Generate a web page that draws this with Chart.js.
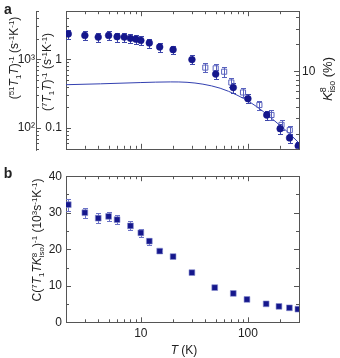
<!DOCTYPE html>
<html>
<head>
<meta charset="utf-8">
<script src="https://cdn.jsdelivr.net/npm/chart.js@4.4.1/dist/chart.umd.min.js"></script>
<style>
    html, body { margin: 0; padding: 0; background: #fff; }
    #wrap { position: relative; width: 340px; height: 358px; overflow: hidden; }
    canvas { position: absolute; left: 0; }
    #chartA { top: 0; }
    #chartB { top: 165px; }
</style>
</head>
<body>
<div id="wrap">
    <canvas id="chartA" width="340" height="160"></canvas>
    <canvas id="chartB" width="340" height="193"></canvas>
</div>
<script>
'use strict'

// panel a : (7T1T)^-1, filled circles, left axis
const tempA = [2.1, 3, 4, 5, 6, 7, 8, 9, 10, 12, 15, 20, 30, 50, 73, 100, 150, 200, 245, 295]
const rateA = [2.34, 2.22, 2.10, 2.22, 2.13, 2.10, 2.02, 1.96, 1.88, 1.73, 1.51, 1.38, 0.99, 0.61, 0.388, 0.268, 0.155, 0.098, 0.072, 0.055]
const errA = [0.35, 0.33, 0.31, 0.33, 0.32, 0.31, 0.30, 0.29, 0.28, 0.26, 0.23, 0.20, 0.15, 0.09, 0.06, 0.04, 0.023, 0.015, 0.011, 0.008]

// panel a : K8_iso (%), open squares, right axis
const tempK = [40, 50, 60, 70, 90, 128, 166, 206, 246]
const knight = [11.0, 10.8, 9.9, 7.5, 5.8, 4.2, 3.25, 2.52, 2.2]
const errK = [1.3, 1.3, 1.2, 0.9, 0.7, 0.5, 0.4, 0.3, 0.27]

// panel a : solid curve
const fitT = [2, 4.2, 10, 19, 27, 38, 55, 79, 105, 140, 187, 231, 296]
const fitV = [0.427, 0.44, 0.459, 0.469, 0.463, 0.435, 0.38, 0.302, 0.237, 0.173, 0.119, 0.09, 0.062]

// panel b : C(7T1TK)^-1
const tempB = [2.1, 3, 4, 5, 6, 8, 10, 12, 15, 20, 30, 49, 73, 98, 148, 195, 244, 293]
const ratioB = [32.2, 30.0, 28.5, 29.0, 28.1, 26.4, 24.5, 22.2, 19.5, 18.0, 13.6, 9.5, 7.9, 6.25, 5.05, 4.35, 3.97, 3.6]
const errB = [1.6, 1.4, 1.3, 1.3, 1.3, 1.2, 1.1, 1.0, 0.5, 0.4, 0, 0, 0, 0, 0, 0, 0, 0]

// tick positions and labels
const xTicks = [2, 3, 4, 5, 6, 7, 8, 9, 10, 20, 30, 40, 50, 60, 70, 80, 90, 100, 200, 300]
const xLabels = {10: '10', 100: '100'}
const yTicksA = [0.05, 0.06, 0.07, 0.08, 0.09, 0.1, 0.2, 0.3, 0.4, 0.5, 0.6, 0.7, 0.8, 0.9, 1, 2, 3, 4, 5]
const yLabelsA = {0.1: '0.1', 1: '1'}
const outerTicks = [50, 60, 70, 80, 90, 100, 200, 300, 400, 500, 600, 700, 800, 900, 1000, 2000, 3000, 4000, 5000]
const outerLabels = {100: '10²', 1000: '10³'}
const kTicks = [2, 3, 4, 5, 6, 7, 8, 9, 10, 20, 30, 40]
const kLabels = {10: '10'}
const yTicksB = [0, 5, 10, 15, 20, 25, 30, 35, 40]
const yLabelsB = {0: '0', 10: '10', 20: '20', 30: '30', 40: '40'}

const FONT = '"Liberation Sans", Arial, Helvetica, sans-serif'
const FRAME = '#555'
const NAVY = '#15178c'

Chart.defaults.font.family = FONT
Chart.defaults.font.size = 12
Chart.defaults.color = '#222'

const pts = (xs, ys) => xs.map((x, i) => ({x: x, y: ys[i]}))

function parseRich(str) {
    const parts = []
    const re = /\^\{([^}]*)\}|_\{([^}]*)\}|\*([^*]*)\*|([^^_*]+)/g
    let m
    while ((m = re.exec(str))) {
        if (m[1] !== undefined) parts.push({t: m[1], k: 'sup'})
        else if (m[2] !== undefined) parts.push({t: m[2], k: 'sub'})
        else if (m[3] !== undefined) parts.push({t: m[3], k: 'it'})
        else parts.push({t: m[4], k: 'n'})
    }
    return parts
}

function drawRich(ctx, item) {
    const size = item.size || 12
    const parts = parseRich(item.text)
    const fontOf = p => {
        const small = p.k === 'sup' || p.k === 'sub'
        return (p.k === 'it' ? 'italic ' : '') + (item.bold ? 'bold ' : '') + (small ? Math.round(size * 0.68) : size) + 'px ' + FONT
    }
    let x = 0
    let supStart = null
    const placed = []
    parts.forEach(p => {
        ctx.font = fontOf(p)
        const w = ctx.measureText(p.t).width
        let px = x
        if (p.k === 'sub' && supStart !== null) px = supStart
        placed.push({p: p, x: px})
        supStart = p.k === 'sup' ? px : null
        x = Math.max(x, px + w)
    })
    ctx.save()
    ctx.translate(item.x, item.y)
    ctx.rotate(item.rot || 0)
    ctx.fillStyle = '#222'
    ctx.textBaseline = 'alphabetic'
    ctx.textAlign = 'left'
    placed.forEach(q => {
        ctx.font = fontOf(q.p)
        const dy = q.p.k === 'sup' ? -size * 0.4 : q.p.k === 'sub' ? size * 0.22 : 0
        ctx.fillText(q.p.t, q.x - x / 2, size * 0.36 + dy)
    })
    ctx.restore()
}

const decor = {
    id: 'decor',
    beforeDatasetsDraw(chart, args, opts) {
        const ctx = chart.ctx
        const a = chart.chartArea
        const px = v => Math.round(v) + 0.5
        ctx.save()
        ctx.strokeStyle = FRAME
        ctx.lineWidth = 1
        ctx.strokeRect(px(a.left), px(a.top), Math.round(a.right) - Math.round(a.left), Math.round(a.bottom) - Math.round(a.top))
        ctx.beginPath()
        opts.ticks.forEach(cfg => {
            const s = chart.scales[cfg.scale]
            s.ticks.forEach(t => {
                const len = cfg.major.includes(t.value) ? 5 : 3
                const p = px(s.getPixelForValue(t.value))
                cfg.edges.forEach(e => {
                    if (e === 'bottom') { ctx.moveTo(p, a.bottom); ctx.lineTo(p, a.bottom - len) }
                    if (e === 'top') { ctx.moveTo(p, a.top); ctx.lineTo(p, a.top + len) }
                    if (e === 'left') { ctx.moveTo(a.left, p); ctx.lineTo(a.left + len, p) }
                    if (e === 'right') { ctx.moveTo(a.right, p); ctx.lineTo(a.right - len, p) }
                    if (e === 'outer') { ctx.moveTo(s.right, p); ctx.lineTo(s.right + len, p) }
                })
            })
            if (cfg.edges.includes('outer')) {
                ctx.moveTo(px(s.right), a.top)
                ctx.lineTo(px(s.right), a.bottom + 2)
            }
        })
        ctx.stroke()

        // error bars, under the markers
        ctx.beginPath()
        ctx.rect(a.left, a.top, a.right - a.left, a.bottom - a.top)
        ctx.clip()
        chart.data.datasets.forEach((ds, i) => {
            if (!ds.errors) return
            const meta = chart.getDatasetMeta(i)
            const ys = chart.scales[ds.yAxisID]
            ctx.strokeStyle = ds.errorColor
            ctx.beginPath()
            meta.data.forEach((pt, j) => {
                const e = ds.errors[j]
                if (!e) return
                const v = ds.data[j].y
                const x = px(pt.x)
                const y1 = px(ys.getPixelForValue(v + e))
                const y2 = px(ys.getPixelForValue(v - e))
                ctx.moveTo(x, y1); ctx.lineTo(x, y2)
                ctx.moveTo(x - 2.5, y1); ctx.lineTo(x + 2.5, y1)
                ctx.moveTo(x - 2.5, y2); ctx.lineTo(x + 2.5, y2)
            })
            ctx.stroke()
        })
        ctx.restore()
    },
    afterDraw(chart, args, opts) {
        opts.texts.forEach(t => drawRich(chart.ctx, t))
    }
}

const logAxis = (min, max, ticks, labels, extra) => Object.assign({
    type: 'logarithmic',
    min: min,
    max: max,
    afterBuildTicks: s => { s.ticks = ticks.map(v => ({value: v})) },
    ticks: {autoSkip: false, maxRotation: 0, padding: 4, callback: v => labels[v] || ''},
    grid: {display: false, drawTicks: false},
    border: {display: false}
}, extra)

new Chart(document.getElementById('chartA'), {
    type: 'scatter',
    data: {
        datasets: [{
            label: '7Li (T1T)^-1',
            data: pts(tempA, rateA),
            yAxisID: 'y',
            pointStyle: 'circle',
            pointRadius: 3.4,
            backgroundColor: NAVY,
            borderColor: NAVY,
            borderWidth: 0.5,
            errors: errA,
            errorColor: '#3d46aa'
        }, {
            label: 'K8 iso',
            data: pts(tempK, knight),
            yAxisID: 'yK',
            pointStyle: 'rect',
            pointRadius: 3.6,
            backgroundColor: 'rgba(255,255,255,0)',
            borderColor: '#5962be',
            borderWidth: 1,
            errors: errK,
            errorColor: '#5962be'
        }, {
            label: 'curve',
            type: 'line',
            data: pts(fitT, fitV),
            yAxisID: 'y',
            borderColor: '#3340b0',
            borderWidth: 1,
            pointRadius: 0,
            cubicInterpolationMode: 'monotone',
            fill: false
        }]
    },
    options: {
        responsive: false,
        animation: false,
        events: [],
        layout: {padding: {top: 9, left: 0, right: 0, bottom: 0}},
        plugins: {
            legend: {display: false},
            tooltip: {enabled: false},
            decor: {
                ticks: [
                    {scale: 'x', edges: ['bottom', 'top'], major: [10, 100]},
                    {scale: 'y', edges: ['left'], major: [0.1, 1]},
                    {scale: 'yOuter', edges: ['outer'], major: [100, 1000]},
                    {scale: 'yK', edges: ['right'], major: [10]}
                ],
                texts: [
                    {text: 'a', x: 8, y: 9, size: 14, bold: true},
                    {text: '(^{51}*T*_{1}*T*)^{-1} (s^{-1}K^{-1})', x: 14, y: 58, size: 12, rot: -Math.PI / 2},
                    {text: '(^{7}*T*_{1}*T*)^{-1} (s^{-1}K^{-1})', x: 47, y: 72, size: 12, rot: -Math.PI / 2},
                    {text: '*K*^{8}_{iso} (%)', x: 327, y: 79, size: 13, rot: -Math.PI / 2}
                ]
            }
        },
        scales: {
            x: logAxis(2, 300, xTicks, xLabels, {
                position: 'bottom',
                ticks: {display: false},
                afterFit: s => { s.height = 5 }
            }),
            yOuter: logAxis(50, 5000, outerTicks, outerLabels, {
                position: 'left',
                weight: 10,
                ticks: {autoSkip: false, padding: 1, callback: v => outerLabels[v] || ''},
                afterFit: s => { s.width = 36 }
            }),
            y: logAxis(0.05, 5, yTicksA, yLabelsA, {
                position: 'left',
                weight: 0,
                afterFit: s => { s.width = 30 }
            }),
            yK: logAxis(1.36, 47, kTicks, kLabels, {
                position: 'right',
                ticks: {autoSkip: false, padding: 3, callback: v => kLabels[v] || ''},
                afterFit: s => { s.width = 41 }
            })
        }
    },
    plugins: [decor]
})

new Chart(document.getElementById('chartB'), {
    type: 'scatter',
    data: {
        datasets: [{
            label: 'C(7T1TK)^-1',
            data: pts(tempB, ratioB),
            yAxisID: 'y',
            pointStyle: 'rect',
            pointRadius: 4.1,
            backgroundColor: NAVY,
            borderColor: '#8a90d0',
            borderWidth: 0.6,
            errors: errB,
            errorColor: '#6b73c6'
        }]
    },
    options: {
        responsive: false,
        animation: false,
        events: [],
        layout: {padding: {top: 10, left: 0, right: 41, bottom: 0}},
        plugins: {
            legend: {display: false},
            tooltip: {enabled: false},
            decor: {
                ticks: [
                    {scale: 'x', edges: ['bottom', 'top'], major: [10, 100]},
                    {scale: 'y', edges: ['left', 'right'], major: [0, 10, 20, 30, 40]}
                ],
                texts: [
                    {text: 'b', x: 8, y: 8, size: 14, bold: true},
                    {text: 'C(^{7}*T*_{1}*TK*^{8}_{iso})^{-1} (10^{3}s^{-1}K^{-1})', x: 37, y: 75, size: 12, rot: -Math.PI / 2},
                    {text: '*T* (K)', x: 184, y: 185, size: 12}
                ]
            }
        },
        scales: {
            x: logAxis(2, 300, xTicks, xLabels, {
                position: 'bottom',
                afterFit: s => { s.height = 35.7 }
            }),
            y: {
                type: 'linear',
                position: 'left',
                min: 0,
                max: 40,
                afterBuildTicks: s => { s.ticks = yTicksB.map(v => ({value: v})) },
                ticks: {autoSkip: false, padding: 4, callback: v => yLabelsB[v] || ''},
                grid: {display: false, drawTicks: false},
                border: {display: false},
                afterFit: s => { s.width = 66 }
            }
        }
    },
    plugins: [decor]
})
</script>
</body>
</html>
